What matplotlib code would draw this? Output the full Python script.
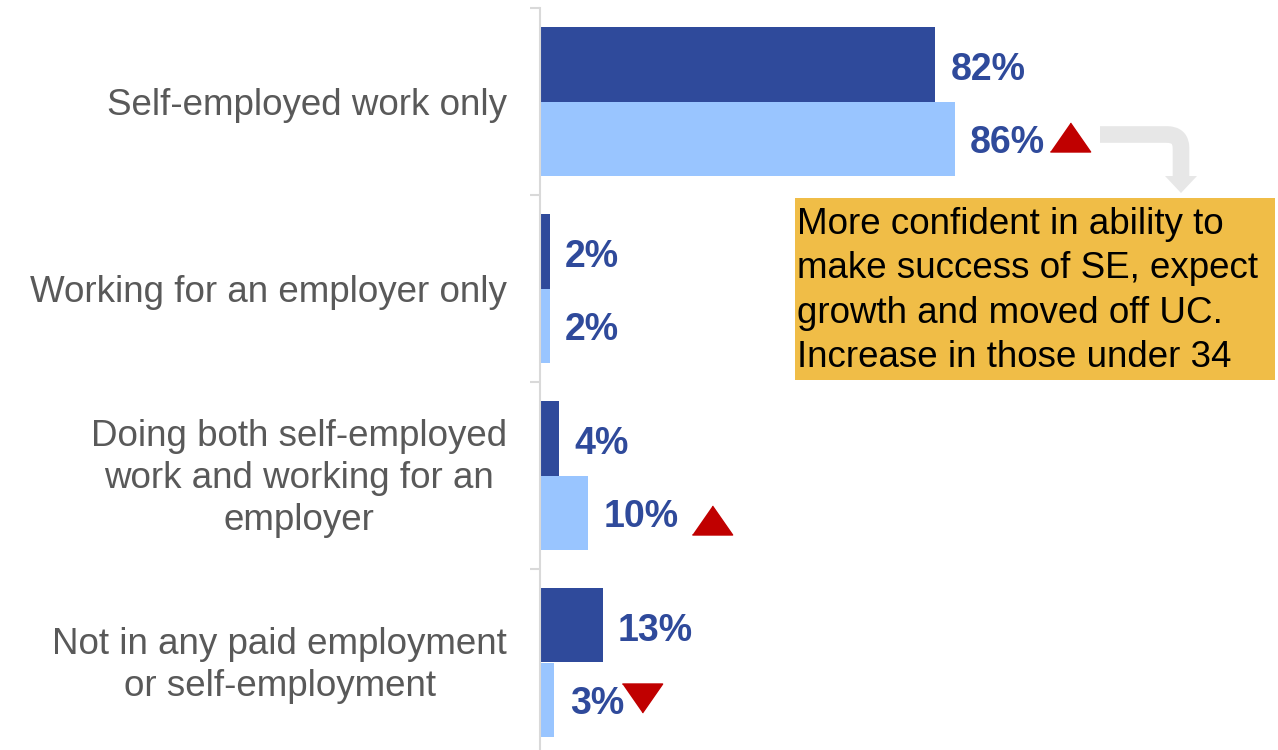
import matplotlib.pyplot as plt
import numpy as np
from matplotlib.patches import Rectangle, Polygon, PathPatch
from matplotlib.path import Path
from matplotlib.transforms import ScaledTranslation

plt.rcParams['font.family'] = ['Liberation Sans', 'DejaVu Sans']

categories = ['Self-employed work only',
              'Working for an employer only',
              'Doing both self-employed\nwork and working for an\nemployer',
              'Not in any paid employment\nor self-employment']
wave1 = [82, 2, 4, 13]
wave2 = [86, 2, 10, 3]
# significant change markers for the second series: +1 up, -1 down, 0 none
change = [1, 0, 1, -1]
marker_dx = [115, 0, 124, 88]   # pixels from bar end to marker centre
marker_dy = [2, 0, -7, 2]       # pixels above the bar centre

dark = '#2F4A9B'
light = '#99C5FF'
red = '#C00000'
grey_txt = '#595959'
axis_grey = '#D9D9D9'

W, H = 1278, 750
fig = plt.figure(figsize=(W / 100, H / 100), dpi=100)
ax = fig.add_axes([540 / W, 1 - 756 / H, 1 - 540 / W, 748 / H])

y = np.arange(len(categories))
bh = 0.4
ax.barh(y - bh / 2, wave1, height=bh, color=dark)
ax.barh(y + bh / 2, wave2, height=bh, color=light)

ax.set_xlim(0, (W - 540) / 4.82)
ax.set_ylim(3.5, -0.5)

for spine in ['top', 'right', 'bottom']:
    ax.spines[spine].set_visible(False)
ax.spines['left'].set_color(axis_grey)
ax.spines['left'].set_linewidth(1.5)
ax.set_xticks([])
ax.set_yticks(np.arange(-0.5, 3.6, 1.0))
ax.set_yticklabels([])
ax.tick_params(axis='y', length=7, width=1.5, color=axis_grey)

# category names, right-aligned against the axis
for i, c in enumerate(categories):
    dy = (-3 if '\n' in c else -4) / 100
    tr = ax.get_yaxis_transform() + ScaledTranslation(-33 / 100, dy, fig.dpi_scale_trans)
    ax.text(0, y[i], c, transform=tr, ha='right', va='center',
            multialignment='center', linespacing=1.27,
            fontsize=26.5, color=grey_txt)

lbl_kw = dict(textcoords='offset points', va='center_baseline', ha='left',
              fontsize=27, fontweight='bold', color=dark)
for i, v in enumerate(wave1):
    ax.annotate(f'{v}%', (v, y[i] - bh / 2), xytext=(11, -1.5), **lbl_kw)
for i, v in enumerate(wave2):
    ax.annotate(f'{v}%', (v, y[i] + bh / 2), xytext=(11, 0), **lbl_kw)

# red triangles flagging significant change
tri_up = [(-1, -0.72), (1, -0.72), (0, 0.72)]
tri_down = [(-1, 0.72), (1, 0.72), (0, -0.72)]
for i, v in enumerate(wave2):
    if change[i] == 0:
        continue
    x_px, y_px = ax.transData.transform((v, y[i] + bh / 2))
    xd, yd = ax.transData.inverted().transform((x_px + marker_dx[i], y_px + marker_dy[i]))
    ax.plot(xd, yd, marker=tri_up if change[i] > 0 else tri_down,
            markersize=29, color=red, linestyle='none', clip_on=False)

# overlay in pixel coordinates for the callout
ov = fig.add_axes([0, 0, 1, 1], zorder=5)
ov.set_xlim(0, W)
ov.set_ylim(H, 0)
ov.axis('off')
ov.patch.set_alpha(0)

shaft = Path([(1100, 134.5), (1167, 134.5), (1181, 134.5), (1181, 148), (1181, 177)],
             [Path.MOVETO, Path.LINETO, Path.CURVE3, Path.CURVE3, Path.LINETO])
ov.add_patch(PathPatch(shaft, fill=False, edgecolor='#E7E7E7', linewidth=12,
                       capstyle='butt', joinstyle='round'))
ov.add_patch(Polygon([(1165, 176), (1197, 176), (1181, 193)], closed=True,
                     facecolor='#E7E7E7', edgecolor='none'))

ov.add_patch(Rectangle((795, 198), 480, 182, facecolor='#F0BD47', edgecolor='none'))
ov.text(797, 291, 'More confident in ability to\nmake success of SE, expect\n'
        'growth and moved off UC.\nIncrease in those under 34',
        fontsize=26.5, color='black', ha='left', va='center', linespacing=1.345)

fig.savefig('out.png', dpi=100)
